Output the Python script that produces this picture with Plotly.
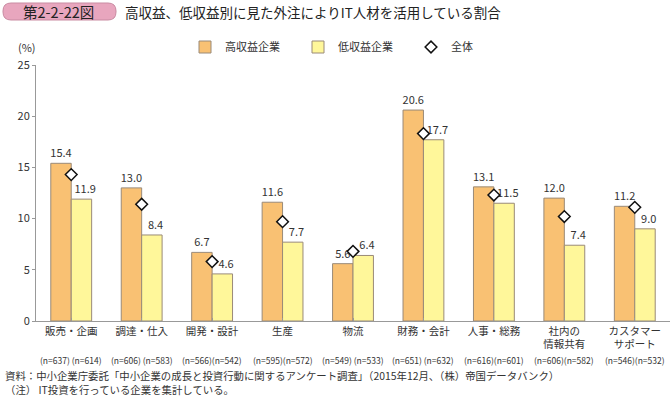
import plotly.graph_objects as go

categories = ["販売・企画", "調達・仕入", "開発・設計", "生産", "物流", "財務・会計", "人事・総務", "社内の<br>情報共有", "カスタマー<br>サポート"]
high_vals = [15.4, 13.0, 6.7, 11.6, 5.6, 20.6, 13.1, 12.0, 11.2]
low_vals = [11.9, 8.4, 4.6, 7.7, 6.4, 17.7, 11.5, 7.4, 9.0]
all_vals = [14.3, 11.4, 5.8, 9.7, 6.8, 18.3, 12.3, 10.2, 11.1]
n_labels = ["(n=637) (n=614)", "(n=606) (n=583)", "(n=566)(n=542)", "(n=595)(n=572)", "(n=549) (n=533)",
            "(n=651) (n=632)", "(n=616)(n=601)", "(n=606)(n=582)", "(n=546)(n=532)"]
y_ticks = [0, 5, 10, 15, 20, 25]

FONT = "Noto Sans CJK JP"
TXT = "#333333"
x = list(range(len(categories)))

W, H = 672, 396
ML, MR, MT, MB = 36, 2, 65, 75
PW, PH = W - ML - MR, H - MT - MB


def px2x(px):
    return (px - ML) / PW


def px2y(py):
    return (H - MB - py) / PH


NB = "\u00a0" * 3

fig = go.Figure()
fig.add_trace(go.Bar(
    x=x, y=high_vals, name="高収益企業",
    marker=dict(color="#F9C173", line=dict(color="#9a8a78", width=1)),
    text=[f"{v:.1f}" for v in high_vals], textposition="outside", constraintext="none",
    textfont=dict(size=11, color=TXT, family=FONT), cliponaxis=False,
))
fig.add_trace(go.Bar(
    x=x, y=low_vals, name="低収益企業",
    marker=dict(color="#FFF79A", line=dict(color="#9a8a78", width=1)),
    text=[f"{NB}{v:.1f}" for v in low_vals], textposition="outside", constraintext="none",
    textfont=dict(size=11, color=TXT, family=FONT), cliponaxis=False,
))
fig.add_trace(go.Scatter(
    x=x, y=all_vals, name="全体", mode="markers",
    marker=dict(symbol="diamond", size=9, color="white", line=dict(color="#111111", width=1.5)),
    cliponaxis=False,
))

fig.update_layout(
    width=W, height=H,
    margin=dict(l=ML, r=MR, t=MT, b=MB),
    paper_bgcolor="white", plot_bgcolor="white",
    barmode="group", bargap=0.42, bargroupgap=0,
    font=dict(family=FONT, size=11, color=TXT),
    showlegend=True,
    legend=dict(orientation="h", x=px2x(185), xanchor="left", y=px2y(47), yanchor="middle",
                entrywidth=68, font=dict(size=11, color=TXT, family=FONT),
                itemwidth=30, traceorder="normal", bgcolor="rgba(0,0,0,0)"),
    xaxis=dict(
        tickmode="array", tickvals=x, ticktext=categories,
        range=[-0.5, len(categories) - 0.5],
        showline=True, linecolor="#999999", linewidth=1,
        ticks="inside", ticklen=3, tickcolor="#999999", tickson="boundaries",
        tickfont=dict(size=10.5, color=TXT, family=FONT),
        showgrid=False, zeroline=False,
    ),
    yaxis=dict(
        range=[0, 25], tickvals=y_ticks,
        showline=True, linecolor="#999999", linewidth=1,
        ticks="outside", ticklen=3, tickcolor="#999999",
        tickfont=dict(size=11, color=TXT, family=FONT),
        showgrid=False, zeroline=False,
    ),
)

# n labels under categories
for i, lab in enumerate(n_labels):
    fig.add_annotation(x=i, y=px2y(360), xref="x", yref="paper", text=lab, showarrow=False,
                       xanchor="center", yanchor="middle",
                       font=dict(size=8.5, color=TXT, family=FONT))

# (%) label
fig.add_annotation(x=px2x(27), y=px2y(47), xref="paper", yref="paper", text="(%)", showarrow=False,
                   xanchor="center", yanchor="middle", font=dict(size=11, color=TXT, family=FONT))

# Title badge (rounded rectangle)
x0, x1, y0, y1, r = 3, 116, 3, 20, 8
path = (f"M {px2x(x0+r)},{px2y(y0)} L {px2x(x1-r)},{px2y(y0)} "
        f"Q {px2x(x1)},{px2y(y0)} {px2x(x1)},{px2y(y0+r)} "
        f"L {px2x(x1)},{px2y(y1-r)} Q {px2x(x1)},{px2y(y1)} {px2x(x1-r)},{px2y(y1)} "
        f"L {px2x(x0+r)},{px2y(y1)} Q {px2x(x0)},{px2y(y1)} {px2x(x0)},{px2y(y1-r)} "
        f"L {px2x(x0)},{px2y(y0+r)} Q {px2x(x0)},{px2y(y0)} {px2x(x0+r)},{px2y(y0)} Z")
fig.add_shape(type="path", path=path, xref="paper", yref="paper",
              fillcolor="#E8A6BE", line=dict(color="#C98BA2", width=1))
fig.add_annotation(x=px2x(58), y=px2y(11.5), xref="paper", yref="paper", text="第2-2-22図",
                   showarrow=False, xanchor="center", yanchor="middle",
                   font=dict(size=14.5, color="#222222", family=FONT))
fig.add_annotation(x=px2x(123), y=px2y(11.5), xref="paper", yref="paper", xanchor="left",
                   yanchor="middle",
                   text="高収益、低収益別に見た外注によりIT人材を活用している割合",
                   showarrow=False, font=dict(size=13.5, color="#222222", family=FONT))

# footer
fig.add_annotation(x=px2x(3), y=px2y(375), xref="paper", yref="paper", xanchor="left", yanchor="middle",
                   text="資料：中小企業庁委託「中小企業の成長と投資行動に関するアンケート調査」（2015年12月、（株）帝国データバンク）",
                   showarrow=False, font=dict(size=10.4, color=TXT, family=FONT))
fig.add_annotation(x=px2x(3), y=px2y(389), xref="paper", yref="paper", xanchor="left", yanchor="middle",
                   text="（注） IT投資を行っている企業を集計している。",
                   showarrow=False, font=dict(size=10.4, color=TXT, family=FONT))

fig.write_html("out.html", post_script="document.body.style.margin='0';",
               config={"displayModeBar": False})
